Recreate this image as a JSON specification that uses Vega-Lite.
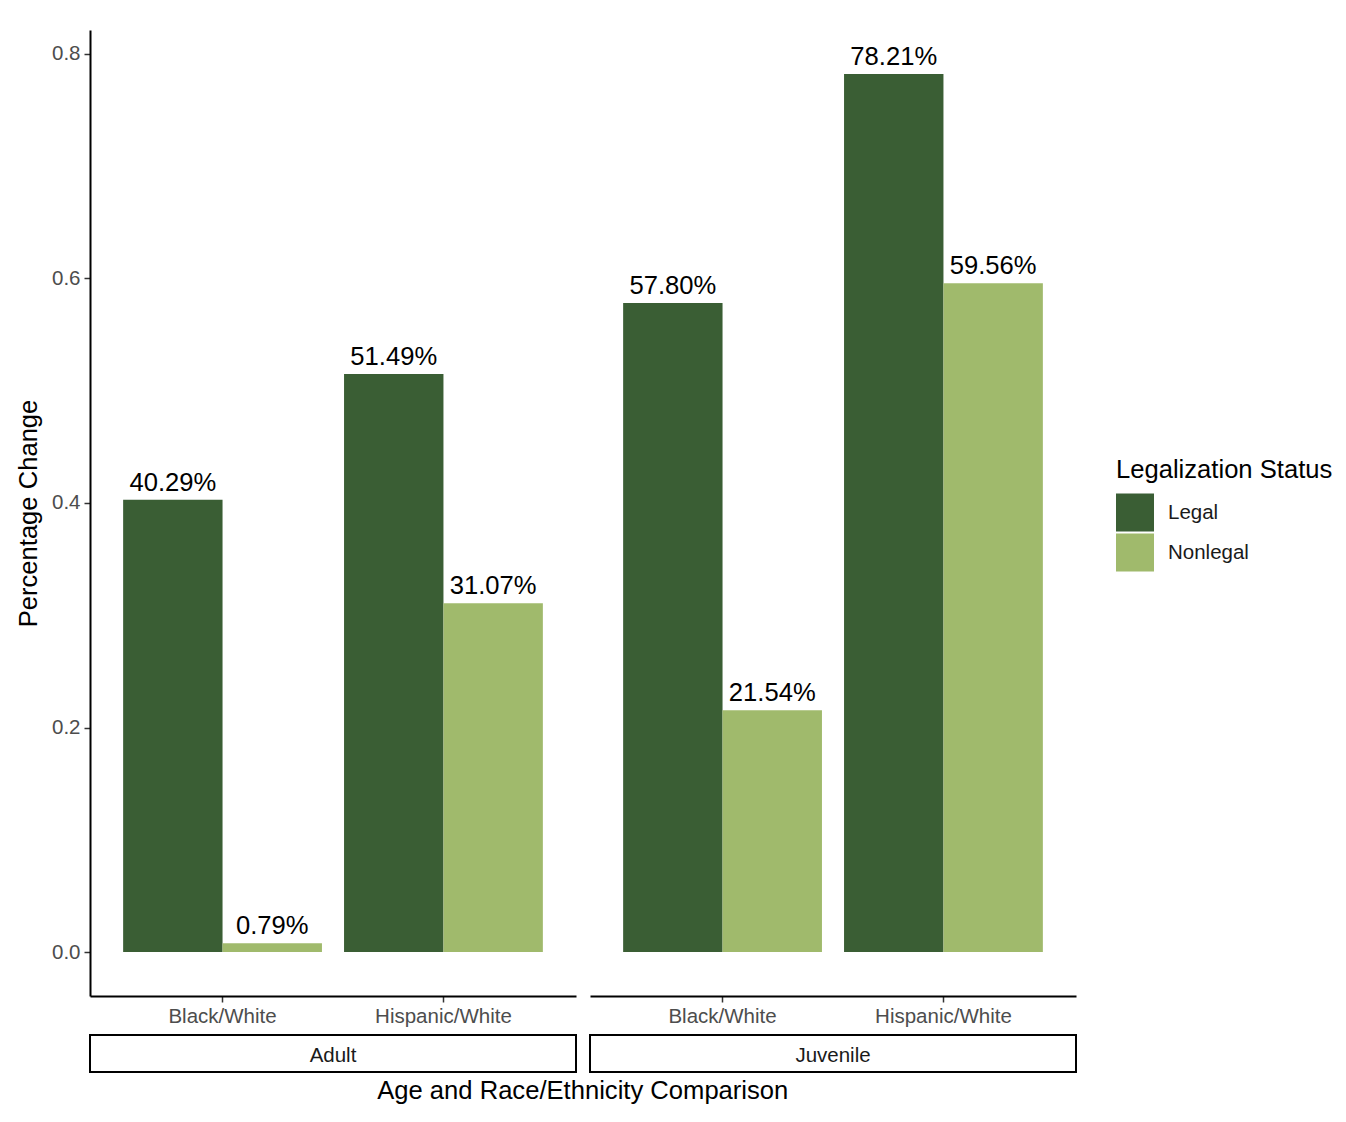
{
  "$schema": "https://vega.github.io/schema/vega-lite/v6.json",
  "padding": {"left": 16, "top": 30, "right": 5, "bottom": 5},
  "background": "white",
  "datasets": {
    "bars": [
      {"age": "Adult", "comparison": "Black/White", "status": "Legal", "value": 0.4029},
      {"age": "Adult", "comparison": "Black/White", "status": "Nonlegal", "value": 0.0079},
      {"age": "Adult", "comparison": "Hispanic/White", "status": "Legal", "value": 0.5149},
      {"age": "Adult", "comparison": "Hispanic/White", "status": "Nonlegal", "value": 0.3107},
      {"age": "Juvenile", "comparison": "Black/White", "status": "Legal", "value": 0.5780},
      {"age": "Juvenile", "comparison": "Black/White", "status": "Nonlegal", "value": 0.2154},
      {"age": "Juvenile", "comparison": "Hispanic/White", "status": "Legal", "value": 0.7821},
      {"age": "Juvenile", "comparison": "Hispanic/White", "status": "Nonlegal", "value": 0.5956}
    ],
    "strips": [{"age": "Adult"}, {"age": "Juvenile"}]
  },
  "title": {"text": "Age and Race/Ethnicity Comparison", "orient": "bottom", "anchor": "middle", "fontSize": 25.6, "fontWeight": "normal", "color": "black", "offset": 6, "dx": -92},
  "spacing": 12,
  "hconcat": [
    {
      "spacing": 39,
      "bounds": "flush",
      "vconcat": [
        {
          "width": 486, "height": 966,
          "data": {"name": "bars"},
          "transform": [{"filter": "datum.age === 'Adult'"}],
          "encoding": {
            "x": {"field": "comparison", "type": "nominal", "title": null, "scale": {"paddingInner": 0.1, "paddingOuter": 0.15}},
            "xOffset": {"field": "status", "type": "nominal", "scale": {"paddingInner": 0, "paddingOuter": 0}},
            "y": {"field": "value", "type": "quantitative", "title": "Percentage Change",
                  "scale": {"domain": [-0.0391, 0.8212], "nice": false, "zero": false},
                  "axis": {"values": [0, 0.2, 0.4, 0.6, 0.8], "format": ".1f"}}
          },
          "layer": [
            {"mark": {"type": "bar"}, "encoding": {"y2": {"datum": 0},
              "color": {"field": "status", "type": "nominal", "title": "Legalization Status",
                        "scale": {"domain": ["Legal", "Nonlegal"], "range": ["#3A5E34", "#A0BA6C"]}}}},
            {"mark": {"type": "text", "fontSize": 25.6, "color": "black", "baseline": "alphabetic", "dy": -9},
             "encoding": {"text": {"field": "value", "type": "quantitative", "format": ".2%"}}}
          ]
        },
        {
          "width": 486, "height": 37,
          "data": {"name": "strips"},
          "transform": [{"filter": "datum.age === 'Adult'"}],
          "view": {"stroke": "black", "strokeWidth": 2},
          "mark": {"type": "text", "fontSize": 20.5, "color": "#1A1A1A", "baseline": "middle", "dy": 2},
          "encoding": {"text": {"field": "age", "type": "nominal"}}
        }
      ]
    },
    {
      "spacing": 39,
      "bounds": "flush",
      "vconcat": [
        {
          "width": 486, "height": 966,
          "data": {"name": "bars"},
          "transform": [{"filter": "datum.age === 'Juvenile'"}],
          "encoding": {
            "x": {"field": "comparison", "type": "nominal", "title": null, "scale": {"paddingInner": 0.1, "paddingOuter": 0.15}},
            "xOffset": {"field": "status", "type": "nominal", "scale": {"paddingInner": 0, "paddingOuter": 0}},
            "y": {"field": "value", "type": "quantitative", "title": null,
                  "scale": {"domain": [-0.0391, 0.8212], "nice": false, "zero": false},
                  "axis": null}
          },
          "layer": [
            {"mark": {"type": "bar"}, "encoding": {"y2": {"datum": 0},
              "color": {"field": "status", "type": "nominal", "title": "Legalization Status",
                        "scale": {"domain": ["Legal", "Nonlegal"], "range": ["#3A5E34", "#A0BA6C"]}}}},
            {"mark": {"type": "text", "fontSize": 25.6, "color": "black", "baseline": "alphabetic", "dy": -9},
             "encoding": {"text": {"field": "value", "type": "quantitative", "format": ".2%"}}}
          ]
        },
        {
          "width": 486, "height": 37,
          "data": {"name": "strips"},
          "transform": [{"filter": "datum.age === 'Juvenile'"}],
          "view": {"stroke": "black", "strokeWidth": 2},
          "mark": {"type": "text", "fontSize": 20.5, "color": "#1A1A1A", "baseline": "middle", "dy": 2},
          "encoding": {"text": {"field": "age", "type": "nominal"}}
        }
      ]
    }
  ],
  "config": {
    "font": "Liberation Sans",
    "view": {"stroke": null},
    "axis": {
      "grid": false,
      "domainColor": "black", "domainWidth": 2,
      "tickColor": "#333333", "tickWidth": 1.5, "tickSize": 6,
      "labelColor": "#4D4D4D", "labelFontSize": 20.5, "labelPadding": 4,
      "titleColor": "black", "titleFontSize": 25.6, "titleFontWeight": "normal", "titlePadding": 10
    },
    "axisX": {"labelAngle": 0},
    "legend": {
      "orient": "none", "legendX": 1026, "legendY": 428,
      "symbolType": "square", "symbolSize": 1444, "symbolStrokeWidth": 0, "symbolOpacity": 1,
      "titleFontSize": 25.6, "titleFontWeight": "normal", "titleColor": "black", "titlePadding": 10, "titleLimit": 400,
      "labelFontSize": 20.5, "labelColor": "#1A1A1A", "labelOffset": 14, "rowPadding": 2
    }
  }
}
